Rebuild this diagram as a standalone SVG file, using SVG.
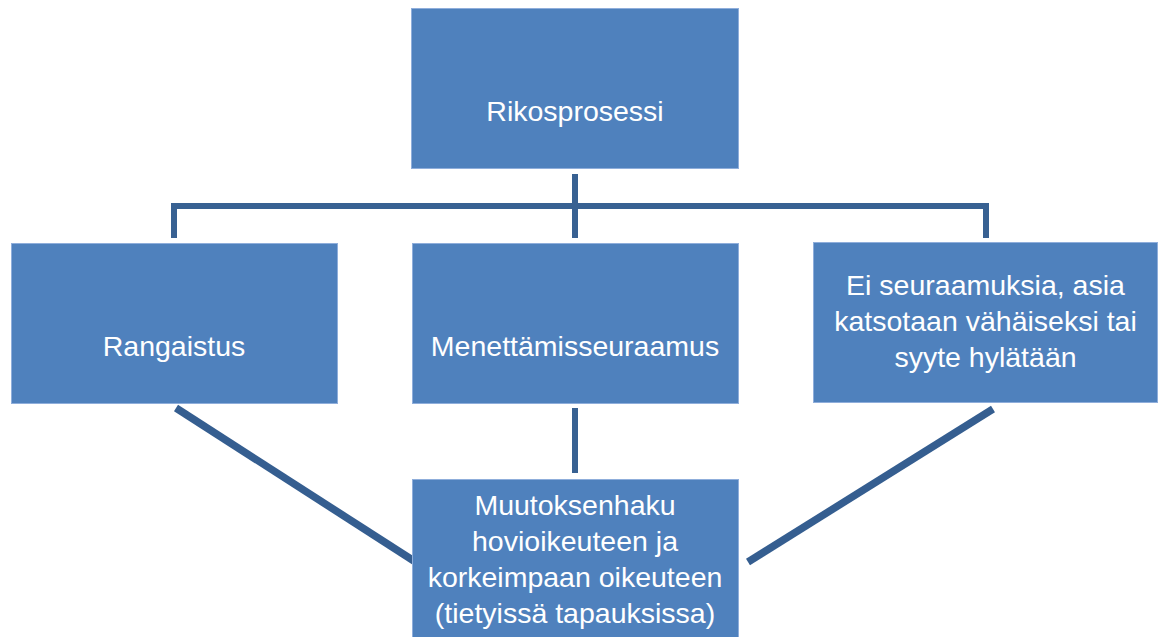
<svg xmlns="http://www.w3.org/2000/svg" width="1159" height="637" viewBox="0 0 1159 637">
<style>
.box{fill:#4F81BD;stroke:#8FAEDB;stroke-width:1}
.lbl{font-family:"Liberation Sans",Arial,sans-serif;font-size:28.5px;fill:#FFFFFF;text-anchor:middle}
.con{fill:none;stroke:#386192;stroke-width:6;stroke-linecap:butt;stroke-linejoin:miter}
.diag{fill:none;stroke:#355E90;stroke-width:7.5;stroke-linecap:butt}
</style>
<rect width="1159" height="637" fill="#FFFFFF"/>
<g id="connectors">
<path class="con" d="M174,238 V206 H986 V238"/>
<path class="con" d="M575,174 V238"/>
<path class="con" d="M575,408 V473"/>
<path class="diag" d="M176,408 L414,561"/>
<path class="diag" d="M993,409 L748,562"/>
</g>
<g id="rikosprosessi">
<rect class="box" x="411.5" y="8.5" width="327" height="160"/>
<text class="lbl" x="575" y="121">Rikosprosessi</text>
</g>
<g id="rangaistus">
<rect class="box" x="11.5" y="243.5" width="326" height="160"/>
<text class="lbl" x="174" y="356">Rangaistus</text>
</g>
<g id="menettamisseuraamus">
<rect class="box" x="412.5" y="243.5" width="326" height="160"/>
<text class="lbl" x="575" y="356">Menettämisseuraamus</text>
</g>
<g id="ei-seuraamuksia">
<rect class="box" x="813.5" y="242.5" width="344" height="160"/>
<text class="lbl" x="985.5" y="295">Ei seuraamuksia, asia</text>
<text class="lbl" x="985.5" y="331">katsotaan vähäiseksi tai</text>
<text class="lbl" x="985.5" y="367">syyte hylätään</text>
</g>
<g id="muutoksenhaku">
<rect class="box" x="412.5" y="479.5" width="326" height="170"/>
<text class="lbl" x="575" y="515">Muutoksenhaku</text>
<text class="lbl" x="575" y="551">hovioikeuteen ja</text>
<text class="lbl" x="575" y="587">korkeimpaan oikeuteen</text>
<text class="lbl" x="575" y="623">(tietyissä tapauksissa)</text>
</g>
</svg>
